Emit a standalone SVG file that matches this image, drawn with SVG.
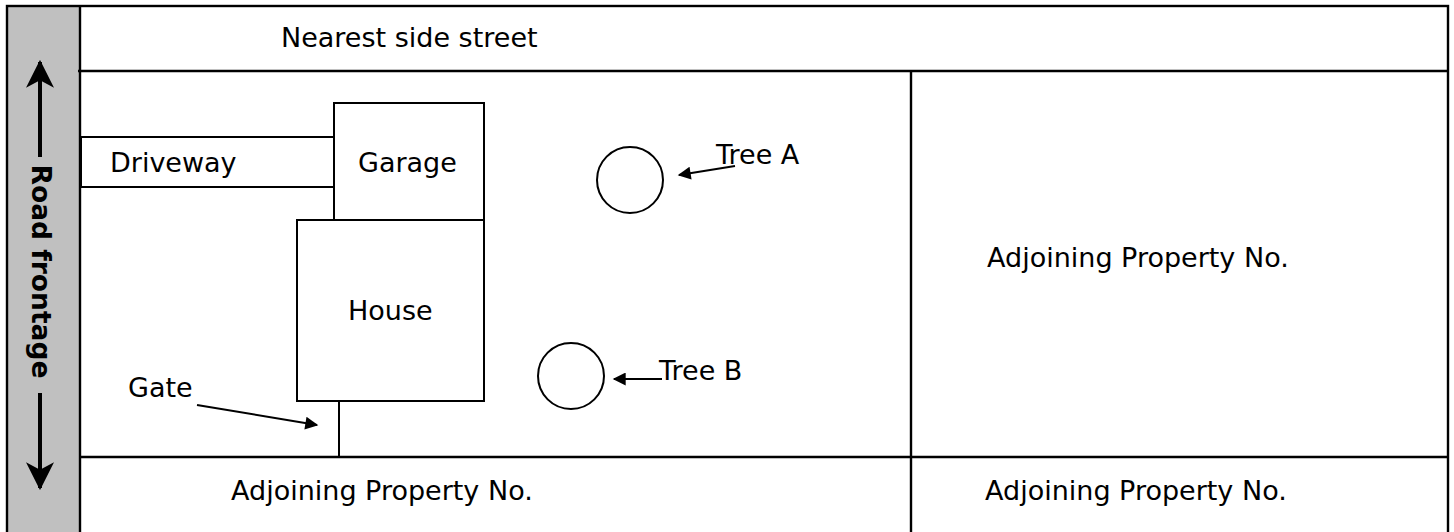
<svg xmlns="http://www.w3.org/2000/svg" width="1454" height="532" viewBox="0 0 1454 532">
<style>
text{font-family:"DejaVu Sans","Verdana",sans-serif;font-size:27px;fill:#000}
.b{font-weight:bold;font-size:26.5px}
.ln{stroke:#000;stroke-width:2.4;fill:none}
.sh{stroke:#000;stroke-width:2;fill:#fff}
.ar{stroke:#000;stroke-width:2;fill:none}
.big{stroke:#000;stroke-width:4;fill:none}
</style>
<defs>
<marker id="ah" viewBox="0 0 10 10" refX="9" refY="5" markerWidth="8.5" markerHeight="6.5" markerUnits="strokeWidth" orient="auto">
<path d="M0,0 L10,5 L0,10 z" fill="#000"/>
</marker>
<marker id="bh" viewBox="0 0 26 26" refX="24" refY="13" markerWidth="7" markerHeight="7" orient="auto">
<path d="M0,0 L26,13 L0,26 L7,13 z" fill="#000"/>
</marker>
</defs>
<rect x="0" y="0" width="1454" height="532" fill="#fff"/>
<g id="frame">
<rect x="7" y="6" width="73" height="540" fill="#c0c0c0" stroke="none"/>
<rect x="7" y="6" width="1441" height="540" class="ln"/>
<line x1="80" y1="6" x2="80" y2="532" class="ln"/>
<line x1="78" y1="71" x2="1448" y2="71" class="ln"/>
<line x1="911" y1="71" x2="911" y2="532" class="ln"/>
<line x1="80" y1="457" x2="1448" y2="457" class="ln"/>
</g>
<g id="road-frontage">
<text class="b" text-anchor="middle" transform="translate(32,271.5) rotate(90)">Road frontage</text>
</g>
<g id="nearest-street"><text x="281" y="47">Nearest side street</text></g>
<g id="driveway"><rect x="81" y="137" width="254" height="50" class="sh"/><text x="110" y="172">Driveway</text></g>
<g id="garage"><rect x="334" y="103" width="150" height="117" class="sh"/><text x="358" y="172">Garage</text></g>
<g id="house"><rect x="297" y="220" width="187" height="181" class="sh"/><text x="348" y="320">House</text></g>
<g id="gate"><line x1="339" y1="401" x2="339" y2="457" class="sh"/><text x="128" y="397">Gate</text></g>
<g id="tree-a"><circle cx="630" cy="180" r="33" class="sh"/><text x="716" y="164">Tree A</text></g>
<g id="tree-b"><circle cx="571" cy="376" r="33" class="sh"/><text x="659" y="380">Tree B</text></g>
<g id="adj-right"><text x="987" y="267">Adjoining Property No.</text></g>
<g id="adj-bottom-left"><text x="231" y="500">Adjoining Property No.</text></g>
<g id="adj-bottom-right"><text x="985" y="500">Adjoining Property No.</text></g>
<g id="connectors">
<line x1="197" y1="405" x2="317" y2="425" class="ar" marker-end="url(#ah)"/>
<line x1="735" y1="166" x2="679" y2="175" class="ar" marker-end="url(#ah)"/>
<line x1="662" y1="379" x2="614" y2="379" class="ar" marker-end="url(#ah)"/>
<line x1="40" y1="157" x2="40" y2="62" class="big" marker-end="url(#bh)"/>
<line x1="40" y1="393" x2="40" y2="488" class="big" marker-end="url(#bh)"/>
</g>
</svg>
